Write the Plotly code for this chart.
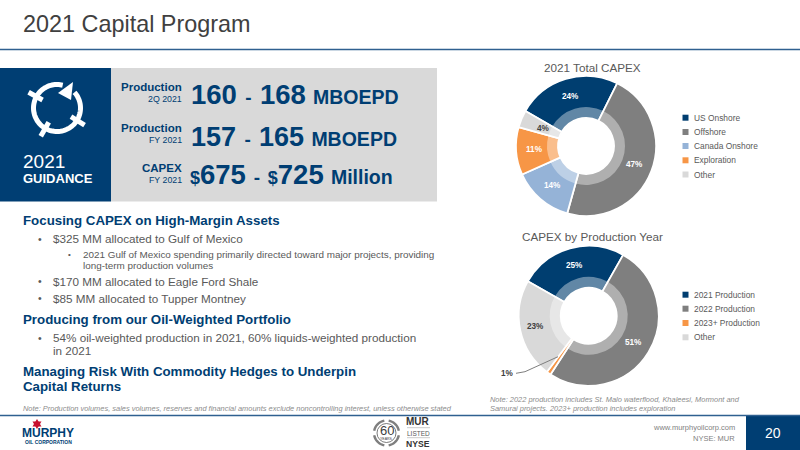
import numpy as np
import plotly.graph_objects as go

W, H = 800, 450
NAVY = "#003e73"
FONT = "Liberation Sans"

capex_labels = ["US Onshore", "Offshore", "Canada Onshore", "Exploration", "Other"]
capex_values = [24, 47, 14, 11, 4]
capex_colors = ["#003e70", "#7f7f7f", "#95b3d7", "#f79646", "#d9d9d9"]
capex_text = ["#ffffff", "#ffffff", "#ffffff", "#ffffff", "#404040"]
capex_label_r = [52, 52, 52, 52, 46]

year_labels = ["2021 Production", "2022 Production", "2023+ Production", "Other"]
year_values = [25, 51, 1, 23]
year_colors = ["#003e70", "#7f7f7f", "#f79646", "#d9d9d9"]
year_text = ["#ffffff", "#ffffff", None, "#404040"]
year_label_r = [52, 52, 52, 54]


def px(x):
    return x / W


def py(y):
    return 1 - y / H


def dom(cx, cy, r):
    return dict(x=[px(cx - r), px(cx + r)], y=[py(cy + r), py(cy - r)])


fig = go.Figure()
ann, shp = [], []


def T(x, y, s, size, color="#595959", anchor="left", bold=False, italic=False, angle=0):
    if bold:
        s = f"<b>{s}</b>"
    if italic:
        s = f"<i>{s}</i>"
    ann.append(dict(x=px(x), y=py(y), xref="paper", yref="paper", text=s, showarrow=False,
                    xanchor=anchor, yanchor="middle", borderpad=0, textangle=angle,
                    font=dict(family=FONT, size=size, color=color)))


def R(x0, y0, x1, y1, color):
    shp.append(dict(type="rect", xref="paper", yref="paper", x0=px(x0), x1=px(x1), y0=py(y0), y1=py(y1),
                    fillcolor=color, line=dict(width=0), layer="below"))


def L(x0, y0, x1, y1, color, w=1):
    shp.append(dict(type="line", xref="paper", yref="paper", x0=px(x0), x1=px(x1), y0=py(y0), y1=py(y1),
                    line=dict(color=color, width=w)))


def P(pts, fill=None, line=None, w=1, close=True):
    d = "M" + " L".join(f"{px(a):.5f},{py(b):.5f}" for a, b in pts) + (" Z" if close else "")
    shp.append(dict(type="path", xref="paper", yref="paper", path=d,
                    fillcolor=fill if fill else "rgba(0,0,0,0)",
                    line=dict(color=line if line else "rgba(0,0,0,0)", width=w if line else 0)))


def donut(cx, cy, labels, values, colors, tcol, rot, label_r):
    r_out, r_mid, r_in = 70, 39, 28
    fig.add_trace(go.Pie(labels=labels, values=values, sort=False, direction="clockwise", rotation=rot,
                         hole=r_in / r_out, domain=dom(cx, cy, r_out), showlegend=False,
                         marker=dict(colors=colors, line=dict(color="#ffffff", width=1.8)),
                         textinfo="none", hoverinfo="skip"))
    fig.add_trace(go.Pie(labels=labels, values=values, sort=False, direction="clockwise", rotation=rot,
                         hole=r_in / r_mid, domain=dom(cx, cy, r_mid), showlegend=False,
                         marker=dict(colors=["rgba(255,255,255,0.38)"] * len(values), line=dict(width=0)),
                         textinfo="none", hoverinfo="skip"))
    total, run = sum(values), 0
    for v, c, rr in zip(values, tcol, label_r):
        mid = np.radians(rot + 360 * (run + v / 2) / total)
        run += v
        if c:
            T(cx + rr * np.sin(mid), cy - rr * np.cos(mid), f"{v}%", 8.2, c, "center", bold=True)


def legend(labels, colors, x, ys):
    for lab, c, y in zip(labels, colors, ys):
        R(x - 3, y - 3, x + 3, y + 3, c)
        T(x + 7, y, lab, 8.4, "#595959")


# Header
T(22, 24, "2021 Capital Program", 23.4, "#404040")
L(0, 49.5, W, 49.5, "#2f6090", 1.5)

# Guidance block
R(0, 68, 111, 201.5, NAVY)
R(111, 68, 437, 201.5, "#d9d9d9")

# Guidance icon
cx, cy, r = 57, 108, 23.5
for a0, a1 in [(-42, 32), (32, 120), (120, 209), (209, 284)]:
    th = np.radians(np.linspace(a0, a1, 24))
    P(list(zip(cx + r * np.cos(th), cy + r * np.sin(th))), line="#ffffff", w=5, close=False)
P([(73, 82), (58, 93), (71, 100)], fill="#ffffff")
for a in [209, 120, 32]:
    t = np.radians(a)
    L(cx + (r - 7) * np.cos(t), cy + (r - 7) * np.sin(t), cx + (r + 9) * np.cos(t), cy + (r + 9) * np.sin(t), "#ffffff", 5)

T(22, 161.5, "2021", 19, "#ffffff")
T(22, 178, "GUIDANCE", 13, "#ffffff", bold=True)

for y1, y2, a, b in [(87, 99, "Production", "2Q 2021"), (128, 140, "Production", "FY 2021"), (168, 180, "CAPEX", "FY 2021")]:
    T(183, y1, a, 11.5, NAVY, "right", bold=True)
    T(183, y2, b, 8.8, NAVY, "right")


def big(x, y, parts):
    s = "".join(f'<span style="font-size:{sz}px">{t}</span>' for t, sz in parts)
    T(x, y, s, 27, NAVY, bold=True)


big(190, 93, [("160", 27.5), (" ", 30), ("-", 19), (" ", 30), ("168", 27.5), (" ", 26), ("MBOEPD", 19.5)])
big(190, 136, [("157", 27), (" ", 30), ("-", 19), (" ", 30), ("165", 27), (" ", 26), ("MBOEPD", 19.5)])
big(189, 175, [("$", 18), ("675", 27.5), (" ", 28), ("-", 19), (" ", 28), ("$", 18), ("725", 27.5), (" ", 26), ("Million", 19.5)])

# Body
T(22, 221, "Focusing CAPEX on High-Margin Assets", 13.3, NAVY, bold=True)
T(37, 238.5, "•", 10.5, "#595959"); T(52, 238.5, "$325 MM allocated to Gulf of Mexico", 11.7, "#595959")
T(67, 254.5, "•", 8, "#595959"); T(81.5, 254.5, "2021 Gulf of Mexico spending primarily directed toward major projects, providing", 9.9, "#595959")
T(81.5, 265.5, "long-term production volumes", 9.9, "#595959")
T(37, 281, "•", 10.5, "#595959"); T(52, 281, "$170 MM allocated to Eagle Ford Shale", 11.7, "#595959")
T(37, 298, "•", 10.5, "#595959"); T(52, 298, "$85 MM allocated to Tupper Montney", 11.7, "#595959")
T(22, 319.5, "Producing from our Oil-Weighted Portfolio", 13.3, NAVY, bold=True)
T(37, 337.5, "•", 10.5, "#595959"); T(52, 337.5, "54% oil-weighted production in 2021, 60% liquids-weighted production", 11.7, "#595959")
T(52, 350.5, "in 2021", 11.7, "#595959")
T(22, 371.5, "Managing Risk With Commodity Hedges to Underpin", 13.3, NAVY, bold=True)
T(22, 386.5, "Capital Returns", 13.3, NAVY, bold=True)
T(22, 408, "Note: Production volumes, sales volumes, reserves and financial amounts exclude noncontrolling interest, unless otherwise stated", 7.45, "#8c8c8c", italic=True)

# Donuts
T(592, 68, "2021 Total CAPEX", 11.7, "#595959", "center")
donut(586, 146, capex_labels, capex_values, capex_colors, capex_text, -60, capex_label_r)
legend(capex_labels, capex_colors, 685.5, [117.7, 132, 146, 160.3, 174.5])

T(592, 236.5, "CAPEX by Production Year", 11.7, "#595959", "center")
donut(588.7, 315.8, year_labels, year_values, year_colors, year_text, -60.5, year_label_r)
legend(year_labels, year_colors, 685.5, [294.7, 308.7, 323, 337.3])
T(507.5, 373.5, "1%", 8.2, "#404040", "center", bold=True)
P([(516, 373.3), (525, 371.7), (558, 356.7)], line="#7f7f7f", w=1, close=False)

T(489, 399.3, "Note: 2022 production includes St. Malo waterflood, Khaleesi, Mormont and", 7.45, "#8c8c8c", italic=True)
T(489, 408.3, "Samurai projects. 2023+ production includes exploration", 7.45, "#8c8c8c", italic=True)

# Footer
L(0, 415.5, W, 415.5, "#2f6090", 1.5)
R(746, 416, W, H, NAVY)
T(773, 433, "20", 14, "#ffffff", "center")
T(736, 427.7, "www.murphyoilcorp.com", 7.5, "#7f7f7f", "right")
T(736, 438, "NYSE: MUR", 7.5, "#7f7f7f", "right")

# Murphy logo
sx, sy = 37, 424
for pts in ([(sx, sy - 5), (sx + 4.5, sy + 2.5), (sx - 4.5, sy + 2.5)], [(sx, sy + 5), (sx + 4.5, sy - 2.5), (sx - 4.5, sy - 2.5)]):
    P(pts, fill="#c8102e")
T(48, 432.5, "MURPHY", 12, NAVY, "center", bold=True)
T(48, 441.5, "OIL CORPORATION", 5, NAVY, "center", bold=True)

# Listing badge
bx, by = 386.5, 433
shp.append(dict(type="circle", xref="paper", yref="paper", x0=px(bx - 9.5), x1=px(bx + 9.5), y0=py(by + 9.5), y1=py(by - 9.5),
                line=dict(color="#595959", width=0.8)))
for a0, a1 in [(100, 170), (190, 260), (10, 80), (-80, -10)]:
    th = np.radians(np.linspace(a0, a1, 10))
    P(list(zip(bx + 12.5 * np.cos(th), by + 12.5 * np.sin(th))), line="#7f7f7f", w=2.4, close=False)
T(bx, by - 3, "60", 13, "#404040", "center")
T(bx, by + 6, "YEARS", 3.5, "#404040", "center")
T(418.5, 421.7, "MUR", 10, "#333333", "center", bold=True)
T(418.5, 433, "LISTED", 6.5, "#595959", "center")
T(418.5, 444, "NYSE", 8.6, "#333333", "center", bold=True)
L(407, 427.7, 430, 427.7, "#999999", 0.5)
L(407, 437.7, 430, 437.7, "#999999", 0.5)

fig.update_layout(width=W, height=H, margin=dict(l=0, r=0, t=0, b=0), paper_bgcolor="#ffffff",
                  plot_bgcolor="#ffffff", showlegend=False, annotations=ann, shapes=shp,
                  font=dict(family=FONT))
fig.write_html("out.html", config=dict(displayModeBar=False),
               post_script="document.body.style.margin='0';document.body.style.overflow='hidden';")
